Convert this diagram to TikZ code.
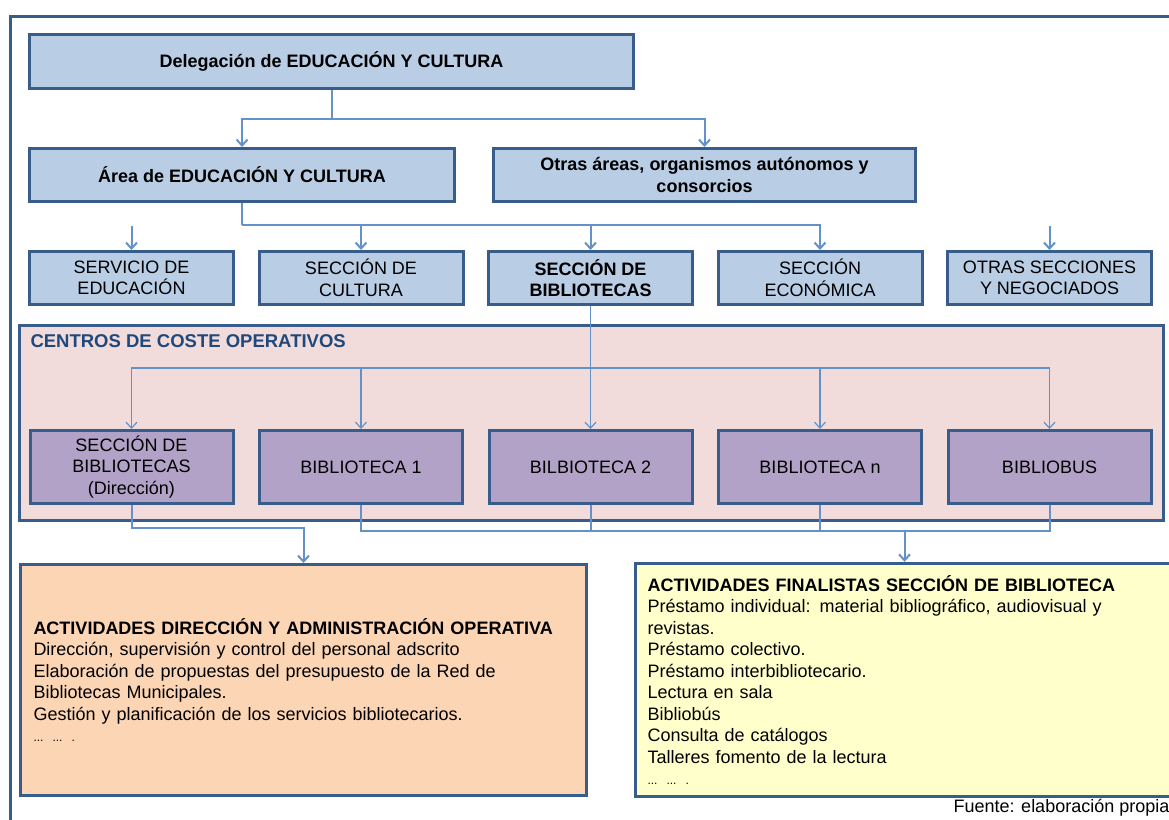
\documentclass[tikz,border=0pt]{standalone}
\usepackage{fontspec}
\setmainfont{Liberation Sans}
\usepackage{tikz}
\usetikzlibrary{arrows.meta,positioning}
\definecolor{boxline}{RGB}{56,93,138}
\definecolor{boxfill}{RGB}{185,205,229}
\definecolor{linkc}{RGB}{100,145,200}
\definecolor{panelfill}{RGB}{242,220,219}
\definecolor{cenfill}{RGB}{178,162,199}
\definecolor{admfill}{RGB}{252,213,181}
\definecolor{finfill}{RGB}{255,255,204}
\definecolor{titlec}{RGB}{31,73,125}
\tikzset{
  top box/.style={
    draw=boxline,
    line width=3pt,
    fill=boxfill,
    minimum height=54pt,
    inner sep=2pt,
    align=center
  },
  sec box/.style={
    top box,
    minimum width=204pt,
    minimum height=53pt
  },
  cen box/.style={
    sec box,
    fill=cenfill,
    minimum width=203pt,
    minimum height=73pt
  },
  panel/.style={
    draw=boxline,
    line width=3pt,
    fill=panelfill,
    inner sep=0pt
  },
  act box/.style={
    draw=boxline,
    line width=3pt,
    minimum height=231pt,
    inner sep=12pt,
    align=left
  },
  link/.style={draw=linkc, line width=2pt},
  thin link/.style={draw=linkc, line width=1.2pt},
  >={Straight Barb[length=6pt,width=11pt]}
}

\begin{document}
\begin{tikzpicture}[x=1pt, y=-1pt, node distance=229.5pt,
                    font=\fontsize{18}{21.5}\selectfont]
   \useasboundingbox (0,0) rectangle (1169,819);
   \clip (0,0) rectangle (1169,819);
   \draw[boxline, line width=3pt] (10,840) -- (10,16) -- (1190,16);

   % upper levels
   \node[top box, minimum width=604pt] (del) at (331.5,61.5) {\textbf{Delegación de EDUCACIÓN Y CULTURA}};
   \node[top box, minimum width=425pt, minimum height=53pt] (area) at (242,175) {\textbf{Área de EDUCACIÓN Y CULTURA}};
   \node[top box, minimum width=422pt, minimum height=53pt] (otras) at (704.5,175) {\textbf{Otras áreas, organismos autónomos y}\\\textbf{consorcios}};

   \node[sec box] (serv) at (131.5,278) {SERVICIO DE\\EDUCACIÓN};
   \node[sec box] (cul) [right of=serv] {SECCIÓN DE\\CULTURA};
   \node[sec box] (bib) [right of=cul] {\textbf{SECCIÓN DE}\\\textbf{BIBLIOTECAS}};
   \node[sec box] (eco) [right of=bib] {SECCIÓN\\ECONÓMICA};
   \node[sec box] (otrs) [right of=eco] {OTRAS SECCIONES\\Y NEGOCIADOS};

   % centros de coste
   \node[panel, minimum width=1144pt, minimum height=195pt] (cco) at (591.5,423) {};
   \node[anchor=west, text=titlec, font=\fontsize{18.5}{21}\selectfont\bfseries] (ccotit) at (27,341) {CENTROS DE COSTE OPERATIVOS};

   \node[cen box] (dir) at (131.5,467) {SECCIÓN DE\\BIBLIOTECAS\\(Dirección)};
   \node[cen box] (b1) [right of=dir] {BIBLIOTECA 1};
   \node[cen box] (b2) [right of=b1] {BILBIOTECA 2};
   \node[cen box] (bn) [right of=b2] {BIBLIOTECA n};
   \node[cen box] (bus) [right of=bn] {BIBLIOBUS};

   % actividades
   \node[act box, fill=admfill, minimum width=566pt, text width=540pt] (adm) at (303.5,680)
     {\textbf{ACTIVIDADES DIRECCIÓN Y ADMINISTRACIÓN OPERATIVA}\\
      Dirección, supervisión y control del personal adscrito\\
      Elaboración de propuestas del presupuesto de la Red de\\
      Bibliotecas Municipales.\\
      Gestión y planificación de los servicios bibliotecarios.\\
      {\fontsize{12}{21.5}\selectfont ... ... .}};
   \node[act box, fill=finfill, minimum width=538pt, text width=514pt] (fin) at (904.5,680)
     {\textbf{ACTIVIDADES FINALISTAS SECCIÓN DE BIBLIOTECA}\\
      Préstamo individual: material bibliográfico, audiovisual y\\
      revistas.\\
      Préstamo colectivo.\\
      Préstamo interbibliotecario.\\
      Lectura en sala\\
      Bibliobús\\
      Consulta de catálogos\\
      Talleres fomento de la lectura\\
      {\fontsize{12}{21.5}\selectfont ... ... .}};

   \node[anchor=west] (fuente) at (950,808) {Fuente: elaboración propia};

   % connectors
   \coordinate (j1) at (331.5,119);
   \coordinate (j2) at (242,225);
   \coordinate (s1) at (131.5,226);
   \coordinate (s5) at (1049.5,226);
   \coordinate (j3) at (591.5,368);
   \coordinate (j4) at (303.5,528);
   \coordinate (j5) at (904.5,531);

   \draw[link] (del.south) -- (j1);
   \draw[link,->] (j1) -| (area.north);
   \draw[link,->] (j1) -| (otras.north);

   \draw[link] (area.south) -- (j2);
   \draw[link,->] (j2) -| (cul.north);
   \draw[link,->] (j2) -| (bib.north);
   \draw[link,->] (j2) -| (eco.north);
   \draw[link,->] (s1) -- (serv.north);
   \draw[link,->] (s5) -- (otrs.north);

   \draw[thin link,->] (bib.south) -- (b2.north);
   \draw[thin link,->] (j3) -| (dir.north);
   \draw[thin link,->] (j3) -| (b1.north);
   \draw[thin link,->] (j3) -| (bn.north);
   \draw[thin link,->] (j3) -| (bus.north);

   \draw[link,->] (dir.south) |- (j4) -- (adm.north);
   \draw[link] (b1.south) |- (j5);
   \draw[link] (b2.south) |- (j5);
   \draw[link] (bn.south) |- (j5);
   \draw[link] (bus.south) |- (j5);
   \draw[link,->] (j5) -- (fin.north);
\end{tikzpicture}
\end{document}
